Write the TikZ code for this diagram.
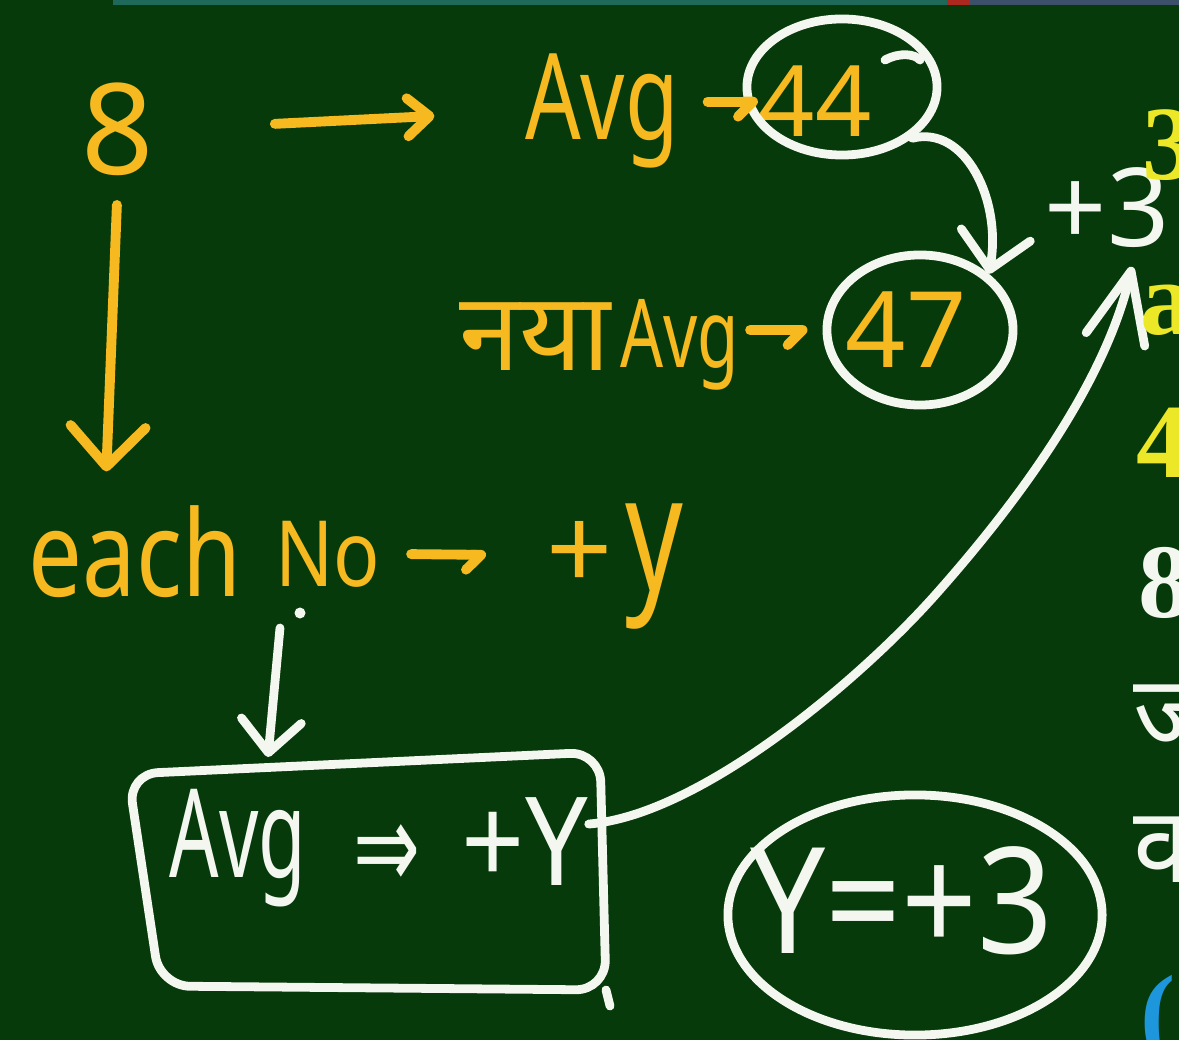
\documentclass[tikz,border=0pt]{standalone}
\usepackage{fontspec}
\usepackage{graphicx}
\setmainfont{Noto Sans}
\newfontfamily\deva[Script=Devanagari]{Noto Sans}
\newfontfamily\djv{DejaVu Sans}
\newfontfamily\serifed{Liberation Serif}
\usetikzlibrary{shapes.geometric,arrows.meta}
\definecolor{board}{RGB}{6,58,10}
\definecolor{chalkY}{RGB}{246,186,32}
\definecolor{chalkW}{RGB}{244,247,240}
\definecolor{edgeY}{RGB}{236,232,40}
\definecolor{edgeB}{RGB}{30,150,220}
\definecolor{stripT}{RGB}{30,105,90}
\definecolor{stripR}{RGB}{170,40,30}
\definecolor{stripG}{RGB}{60,80,105}
\newcommand{\fsz}[1]{\fontsize{#1pt}{#1pt}\selectfont}
\newcommand{\hs}[2]{\scalebox{#1}[1]{#2}}
\begin{document}
\begin{tikzpicture}[x=0.01cm,y=-0.01cm,
  chalk/.style={line width=2.5pt,line cap=round,line join=round},
  ystroke/.style={chalk,draw=chalkY,line width=2.8pt},
  wstroke/.style={chalk,draw=chalkW},
  lbl/.style={inner sep=0pt,anchor=base},
  ylbl/.style={lbl,text=chalkY},
  wlbl/.style={lbl,text=chalkW},
  ring/.style={ellipse,draw=chalkW,line width=2.5pt,inner sep=0pt},
  edgetxt/.style={inner sep=0pt,anchor=base west,font=\serifed\bfseries\fsz{30}},
]
\fill[board] (0,0) rectangle (1179,1040);
\useasboundingbox (0,0) rectangle (1179,1040);
\fill[stripT] (113,0) rectangle (947,5);
\fill[stripR] (947,0) rectangle (970,5);
\fill[stripG] (970,0) rectangle (1179,5);

% ---- top line
\node[ylbl,font=\fsz{36}] (eight) at (118,175) {8};
\node[ylbl,font=\fsz{34}] (avgA) at (602,140) {\hs{0.73}{Avg}};
\node[ylbl,font=\fsz{28}] (n44) at (815,137) {44};
\node[ring,minimum width=1.9cm,minimum height=1.36cm] (c44) at (842,87) {};
\draw[wstroke] (885,60) .. controls (900,52) and (915,54) .. (920,60);

% ---- second line
\node[ylbl,font=\deva\fsz{31}] (naya) at (535,370) {नया};
\node[ylbl,font=\fsz{27}] (avgB) at (680,367) {\hs{0.71}{Avg}};
\node[ylbl,font=\fsz{30}] (n47) at (906,367) {47};
\node[ring,minimum width=1.86cm,minimum height=1.5cm] (c47) at (920,330) {};

\node[wlbl,font=\fsz{31}] (plus3) at (1107,247) {+3};

% ---- each No -> +y
\node[ylbl,font=\fsz{34}] (each) at (135,596) {\hs{0.8}{each}};
\node[ylbl,font=\fsz{26}] (no) at (328,586) {\hs{0.84}{No}};
\node[ylbl,font=\fsz{33}] (plusy) at (580,590) {+};
\node[ylbl,font=\fsz{46}] (yy) at (654,590) {\hs{0.7}{y}};

\node[circle,fill=chalkW,inner sep=0pt,minimum size=0.11cm] (dot) at (300,613) {};
\coordinate (boxtop) at (268,757);

% ---- box
\draw[wstroke,rounded corners=0.3cm] (600,752) -- (128,774) -- (160,986) -- (606,990) -- cycle;
\draw[wstroke] (606,990) -- (610,1006);
\node[wlbl,font=\fsz{35}] (bavg) at (238,877) {\hs{0.63}{Avg}};
\node[wlbl,font=\djv\fsz{35}] (bimp) at (387,889) {\hs{0.65}{⇒}};
\node[wlbl,font=\fsz{35}] (by) at (525,885) {\hs{0.9}{+Y}};

% ---- y = +3
\node[wlbl,font=\fsz{42}] (yeq) at (902,953) {\hs{0.9}{Y=+3}};
\node[ring,minimum width=3.74cm,minimum height=2.4cm] (cy) at (915,915) {};

% ---- connectors
\draw[ystroke,shorten <=1.2cm,shorten >=0.9cm,-{Straight Barb[length=0.22cm,width=0.38cm,round]}]
  (eight.east) -- (avgA.west);
\draw[ystroke,shorten <=0.28cm,-{Straight Barb[length=0.15cm,width=0.3cm,round,harpoon,swap]}]
  (avgA.east |- n44.west) -- (n44.west);
\draw[ystroke,shorten <=0.1cm,shorten >=0.15cm,-{Straight Barb[length=0.15cm,width=0.3cm,round,harpoon,swap]}]
  (avgB.east |- c47.west) -- (c47.west);
\draw[ystroke,shorten <=0.28cm,shorten >=0.33cm,-{Straight Barb[length=0.4cm,width=0.75cm,round]}]
  (eight.south) -- ([xshift=-0.3cm]each.north);
\draw[ystroke,shorten <=0.3cm,shorten >=0.6cm,-{Straight Barb[length=0.15cm,width=0.3cm,round,harpoon,swap]}]
  (no.east) -- (plusy.west);
\draw[wstroke,-{Straight Barb[length=0.32cm,width=0.6cm,round]}]
  ([xshift=-0.2cm,yshift=-0.15cm]dot.center) -- (boxtop);
\draw[wstroke,-{Straight Barb[length=0.35cm,width=0.7cm,round]}]
  (c44.south east) .. controls (965,125) and (1002,200) .. (c47.north east);
\draw[wstroke,-{Straight Barb[length=0.7cm,width=0.6cm,round]}]
  ([yshift=0.17cm]by.east) .. controls (700,815) and (860,680) .. (937,593)
  .. controls (1015,505) and (1105,385) .. ([xshift=0.25cm,yshift=-0.18cm]plus3.south);

% ---- cropped fragments at the right edge
\begin{scope}
\clip (0,0) rectangle (1179,1040);
\node[edgetxt,text=edgeY] (f1) at (1142,180) {3};
\node[edgetxt,text=edgeY] (f2) at (1140,335) {a};
\node[edgetxt,text=edgeY] (f3) at (1136,477) {4};
\node[edgetxt,text=chalkW] (f4) at (1138,617) {8};
\node[edgetxt,text=chalkW,font=\deva\bfseries\fsz{30}] (f5) at (1133,750) {ज};
\node[edgetxt,text=chalkW,font=\deva\bfseries\fsz{30}] (f6) at (1133,882) {क};
\node[edgetxt,text=edgeB] (f7) at (1140,1048) {(};
\end{scope}
\end{tikzpicture}
\end{document}
